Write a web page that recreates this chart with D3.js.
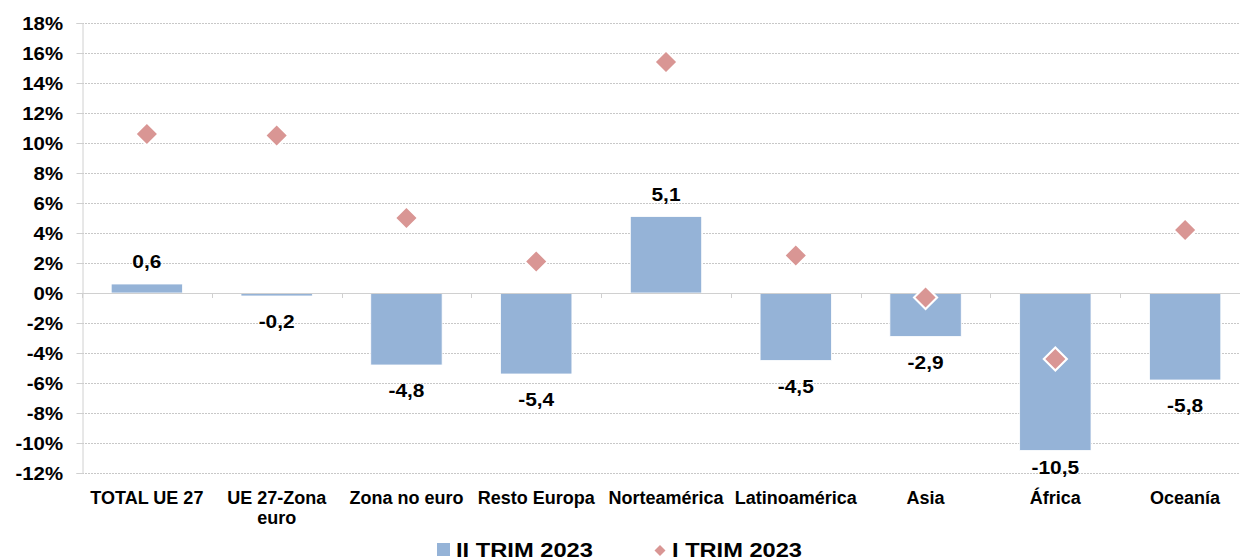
<!DOCTYPE html>
<html>
<head>
<meta charset="utf-8">
<script src="https://cdn.jsdelivr.net/npm/d3@7"></script>
<style>
  html, body { margin: 0; padding: 0; background: #fff; }
  svg text { font-family: "Liberation Sans", Arial, sans-serif; font-weight: bold; fill: #000; }
</style>
</head>
<body>
<svg id="chart" width="1240" height="560"></svg>
<script>
// Regions (category axis)
const categories = ["TOTAL UE 27", "UE 27-Zona euro", "Zona no euro", "Resto Europa",
  "Norteamérica", "Latinoamérica", "Asia", "África", "Oceanía"];
// Category labels as drawn (line breaks)
const categoryLines = [["TOTAL UE 27"], ["UE 27-Zona", "euro"], ["Zona no euro"], ["Resto Europa"],
  ["Norteamérica"], ["Latinoamérica"], ["Asia"], ["África"], ["Oceanía"]];
// II TRIM 2023 (bars), %
const trim2 = [0.6, -0.2, -4.8, -5.4, 5.1, -4.5, -2.9, -10.5, -5.8];
// I TRIM 2023 (diamonds), %
const trim1 = [10.6, 10.5, 5.0, 2.1, 15.4, 2.5, -0.3, -4.4, 4.2];
// Y axis ticks
const yTicks = [-12, -10, -8, -6, -4, -2, 0, 2, 4, 6, 8, 10, 12, 14, 16, 18];
const seriesNames = ["II TRIM 2023", "I TRIM 2023"];

const barColor = "#95b3d7";
const diamondColor = "#d99694";

const svg = d3.select("#chart");
const plotLeft = 82, plotRight = 1250, plotTop = 23, plotBottom = 473;

const x = d3.scaleBand().domain(categories).range([plotLeft, plotRight]).paddingInner(0).paddingOuter(0);
const y = d3.scaleLinear().domain([-12, 18]).range([plotBottom, plotTop]);
const fmt = v => d3.format(".1f")(v).replace(".", ",").replace("−", "-");

// Dashed gridlines
svg.append("g").selectAll("line").data(yTicks.filter(d => d !== 0)).join("line")
  .attr("x1", plotLeft).attr("x2", plotRight)
  .attr("y1", d => y(d) + 0.5).attr("y2", d => y(d) + 0.5)
  .attr("stroke", "#c8c8c8").attr("stroke-width", 1).attr("stroke-dasharray", "2,1");

// Y axis: line and ticks from d3, labels drawn slightly wide
const yAxis = d3.axisLeft(y).tickValues(yTicks).tickSize(6).tickFormat("");
const gy = svg.append("g").attr("transform", `translate(${plotLeft + 0.5},0)`).call(yAxis);
gy.select(".domain").attr("stroke", "#d0d0d0");
gy.selectAll(".tick line").attr("stroke", "#d0d0d0");
svg.append("g").selectAll("text").data(yTicks).join("text")
  .attr("transform", d => `translate(63,${y(d) + 0.5}) scale(1.1,1)`)
  .attr("text-anchor", "end").attr("dy", "0.35em")
  .style("font-size", "18.5px")
  .text(d => d + "%");

// Bars
svg.append("g").selectAll("rect").data(trim2).join("rect")
  .attr("x", (d, i) => x(categories[i]) + x.bandwidth() * 0.225)
  .attr("width", x.bandwidth() * 0.55)
  .attr("y", d => y(Math.max(0, d)))
  .attr("height", d => Math.abs(y(d) - y(0)))
  .attr("fill", barColor).attr("stroke", "#fff").attr("stroke-width", 0.8);

// Zero line with category ticks
svg.append("line").attr("x1", plotLeft).attr("x2", plotRight)
  .attr("y1", y(0) + 0.5).attr("y2", y(0) + 0.5)
  .attr("stroke", "#d0d0d0").attr("stroke-width", 1.2);
svg.append("g").selectAll("line").data(categories).join("line")
  .attr("x1", d => Math.round(x(d)) + 0.5).attr("x2", d => Math.round(x(d)) + 0.5)
  .attr("y1", y(0)).attr("y2", y(0) + 5)
  .attr("stroke", "#d0d0d0");

// Bar value labels
svg.append("g").selectAll("text").data(trim2).join("text")
  .attr("transform", (d, i) => {
    const cx = x(categories[i]) + x.bandwidth() / 2;
    const ty = d >= 0 ? y(d) - 16 : Math.min(y(d) + 32, plotBottom + 1);
    return `translate(${cx},${ty}) scale(1.1,1)`;
  })
  .attr("text-anchor", "middle").style("font-size", "19px")
  .text(d => fmt(d));

// Diamonds
svg.append("g").selectAll("path").data(trim1).join("path")
  .attr("d", d3.symbol().type(d3.symbolSquare).size(266))
  .attr("transform", (d, i) => `translate(${x(categories[i]) + x.bandwidth() / 2},${y(d)}) rotate(45)`)
  .attr("fill", diamondColor).attr("stroke", "#fff").attr("stroke-width", 2.1);

// Category labels
const cl = svg.append("g").selectAll("text").data(categoryLines).join("text")
  .attr("x", (d, i) => x(categories[i]) + x.bandwidth() / 2)
  .attr("y", 504)
  .attr("text-anchor", "middle").style("font-size", "18px");
cl.selectAll("tspan").data(d => d).join("tspan")
  .attr("x", function () { return this.parentNode.getAttribute("x"); })
  .attr("dy", (d, i) => i === 0 ? 0 : 20)
  .text(d => d);

// Legend
const lg = svg.append("g");
lg.append("rect").attr("x", 437).attr("y", 543).attr("width", 13).attr("height", 13).attr("fill", barColor);
lg.append("text").attr("x", 456).attr("y", 557).style("font-size", "20px")
  .attr("textLength", 137).attr("lengthAdjust", "spacingAndGlyphs").text(seriesNames[0]);
lg.append("path")
  .attr("d", d3.symbol().type(d3.symbolSquare).size(60))
  .attr("transform", "translate(660,550.5) rotate(45)")
  .attr("fill", diamondColor);
lg.append("text").attr("x", 672).attr("y", 557).style("font-size", "20px")
  .attr("textLength", 130).attr("lengthAdjust", "spacingAndGlyphs").text(seriesNames[1]);
</script>
</body>
</html>
